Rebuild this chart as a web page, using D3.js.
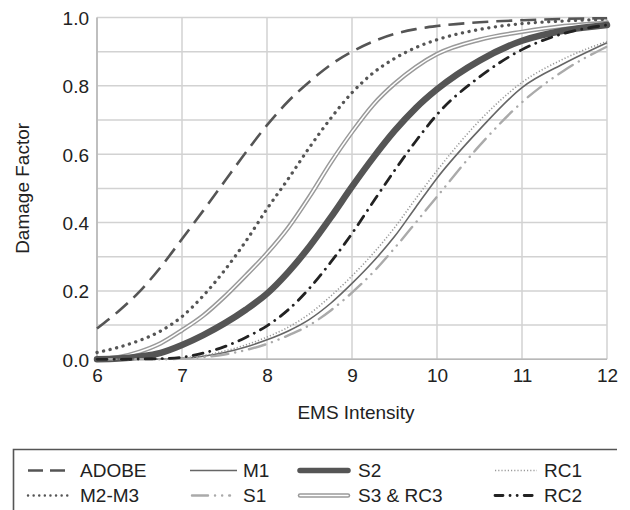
<!DOCTYPE html>
<html>
<head>
<meta charset="utf-8">
<script src="https://cdn.jsdelivr.net/npm/d3@7"></script>
<style>
  html, body { margin: 0; padding: 0; background: #fff; }
  svg { display: block; font-family: "Liberation Sans", Arial, Helvetica, sans-serif; }
</style>
</head>
<body>
<svg id="chart" width="630" height="510"></svg>
<script>
// ---- data ----
const intensity = [6, 6.25, 6.5, 6.75, 7, 7.25, 7.5, 7.75, 8, 8.25, 8.5, 8.75, 9, 9.25, 9.5, 9.75, 10, 10.5, 11, 11.5, 12];
const adobe = [0.09, 0.14, 0.198, 0.27, 0.352, 0.435, 0.52, 0.605, 0.685, 0.755, 0.812, 0.862, 0.90, 0.93, 0.952, 0.966, 0.975, 0.986, 0.992, 0.996, 0.998];
const m2m3  = [0.02, 0.035, 0.055, 0.083, 0.125, 0.186, 0.26, 0.345, 0.44, 0.528, 0.62, 0.705, 0.78, 0.838, 0.88, 0.912, 0.935, 0.965, 0.982, 0.99, 0.995];
const s3rc3 = [0.0, 0.006, 0.022, 0.047, 0.085, 0.128, 0.183, 0.245, 0.31, 0.385, 0.476, 0.575, 0.665, 0.745, 0.806, 0.855, 0.893, 0.935, 0.958, 0.975, 0.985];
const s2    = [0.0, 0.002, 0.008, 0.019, 0.042, 0.071, 0.105, 0.145, 0.192, 0.255, 0.33, 0.415, 0.505, 0.59, 0.668, 0.735, 0.79, 0.874, 0.932, 0.962, 0.978];
const rc2   = [0.0, 0.0, 0.001, 0.002, 0.006, 0.018, 0.037, 0.064, 0.098, 0.145, 0.208, 0.284, 0.368, 0.461, 0.552, 0.638, 0.716, 0.826, 0.906, 0.954, 0.978];
const m1    = [0.0, 0.0, 0.0, 0.001, 0.003, 0.009, 0.02, 0.036, 0.057, 0.083, 0.117, 0.164, 0.222, 0.286, 0.359, 0.445, 0.53, 0.672, 0.795, 0.866, 0.926];
const rc1   = [0.0, 0.0, 0.0, 0.001, 0.004, 0.011, 0.024, 0.042, 0.065, 0.094, 0.133, 0.185, 0.244, 0.31, 0.385, 0.47, 0.552, 0.698, 0.81, 0.88, 0.93];
const s1    = [0.0, 0.0, 0.0, 0.0, 0.002, 0.006, 0.014, 0.027, 0.045, 0.07, 0.10, 0.143, 0.195, 0.255, 0.325, 0.40, 0.476, 0.625, 0.752, 0.846, 0.915];

const seriesNames = ["ADOBE", "M1", "S2", "RC1", "M2-M3", "S1", "S3 & RC3", "RC2"];
const xTicks = [6, 7, 8, 9, 10, 11, 12];
const yTicks = [0, 0.2, 0.4, 0.6, 0.8, 1.0];
const yGrid = [0, 0.1, 0.2, 0.3, 0.4, 0.5, 0.6, 0.7, 0.8, 0.9, 1.0];
const xTitle = "EMS Intensity";
const yTitle = "Damage Factor";

const valuesByName = {
  "ADOBE": adobe, "M1": m1, "S2": s2, "RC1": rc1,
  "M2-M3": m2m3, "S1": s1, "S3 & RC3": s3rc3, "RC2": rc2
};

// ---- styles ----
const styles = {
  "ADOBE":    [{stroke: "#555", width: 2.6, dash: "16 8", cap: "butt"}],
  "M1":       [{stroke: "#666", width: 1.6, dash: null, cap: "butt"}],
  "S2":       [{stroke: "#555", width: 6.5, dash: null, cap: "round"}],
  "RC1":      [{stroke: "#9a9a9a", width: 1.6, dash: "1.2 2", cap: "butt"}],
  "M2-M3":    [{stroke: "#555", width: 3.3, dash: "0.1 6.6", cap: "round"}],
  "S1":       [{stroke: "#aaa", width: 2.4, dash: "17 7 0.1 7 0.1 7", cap: "round"}],
  "S3 & RC3": [{stroke: "#9a9a9a", width: 4.5, dash: null, cap: "round"}, {stroke: "#fff", width: 1.5, dash: null, cap: "round"}],
  "RC2":      [{stroke: "#222", width: 2.8, dash: "10 7 0.1 7", cap: "round"}]
};
const drawOrder = ["S3 & RC3", "S2", "M1", "RC1", "S1", "RC2", "M2-M3", "ADOBE"];

// ---- layout ----
const svg = d3.select("#chart");
const x = d3.scaleLinear().domain([6, 12]).range([97, 607]);
const y = d3.scaleLinear().domain([0, 1]).range([359.3, 17.5]);
const textColor = "#222";
const fontSize = 19;

// grid
const g = svg.append("g");
g.selectAll("line.gx").data(xTicks).enter().append("line")
  .attr("x1", d => x(d)).attr("x2", d => x(d))
  .attr("y1", y(0)).attr("y2", y(1))
  .attr("stroke", "#d2d2d2").attr("stroke-width", 1.5);
g.selectAll("line.gy").data(yGrid).enter().append("line")
  .attr("x1", x(6)).attr("x2", x(12))
  .attr("y1", d => y(d)).attr("y2", d => y(d))
  .attr("stroke", "#d2d2d2").attr("stroke-width", 1.5);
// axes lines
g.append("line").attr("x1", x(6)).attr("x2", x(6)).attr("y1", y(0)).attr("y2", y(1))
  .attr("stroke", "#b8b8b8").attr("stroke-width", 1.6);
g.append("line").attr("x1", x(6)).attr("x2", x(12)).attr("y1", y(0)).attr("y2", y(0))
  .attr("stroke", "#b8b8b8").attr("stroke-width", 1.6);

// axes via d3
const xAxis = d3.axisBottom(x).tickValues(xTicks).tickSize(0).tickPadding(0).tickFormat(d3.format("d"));
const yAxis = d3.axisLeft(y).tickValues(yTicks).tickSize(0).tickPadding(0).tickFormat(d3.format(".1f"));
const gx = svg.append("g").attr("transform", `translate(0,${y(0)})`).call(xAxis);
const gy = svg.append("g").attr("transform", `translate(${x(6) - 8},0)`).call(yAxis);
[gx, gy].forEach(a => {
  a.select(".domain").remove();
  a.selectAll("text").attr("fill", textColor).style("font-size", fontSize + "px")
    .style("font-family", '"Liberation Sans", Arial, sans-serif');
});
gx.selectAll("text").attr("dy", null).attr("y", 22.5);
gy.selectAll("text").attr("dy", "0.36em").attr("x", 0);

// titles
svg.append("text").attr("x", 356).attr("y", 419).attr("text-anchor", "middle")
  .attr("fill", textColor).style("font-size", fontSize + "px").text(xTitle);
svg.append("text").attr("transform", `translate(29,${(y(0) + y(1)) / 2}) rotate(-90)`)
  .attr("text-anchor", "middle").attr("fill", textColor).style("font-size", fontSize + "px").text(yTitle);

// lines
const line = d3.line().x((d, i) => x(intensity[i])).y(d => y(d)).curve(d3.curveMonotoneX);
const lg = svg.append("g");
drawOrder.forEach(name => {
  styles[name].forEach(s => {
    lg.append("path").datum(valuesByName[name])
      .attr("d", line)
      .attr("fill", "none")
      .attr("stroke", s.stroke)
      .attr("stroke-width", s.width)
      .attr("stroke-linecap", s.cap)
      .attr("stroke-linejoin", "round")
      .attr("stroke-dasharray", s.dash);
  });
});

// legend
const leg = svg.append("g");
leg.append("path").attr("d", "M13.5,520 V449.5 H617").attr("fill", "none")
  .attr("stroke", "#555").attr("stroke-width", 1.6);
const colX = [28, 190, 300, 495];
const colW = [42, 47, 48, 42];
const rowY = [470.5, 495.5];
const textGap = [10, 6, 10, 7];
seriesNames.forEach((name, i) => {
  const col = i % 4, row = Math.floor(i / 4);
  const x0 = colX[col] + (name === "S1" ? 2 : 0);
  const w = name === "S1" ? 38 : colW[col];
  styles[name].forEach(s => {
    let dash = s.dash;
    if (name === "ADOBE") dash = "15 7";
    if (name === "M2-M3") dash = "0.1 5.5";
    if (name === "S1") dash = "16 7 0.1 7 0.1 7";
    if (name === "RC2") dash = "8 7 0.1 7 0.1 7";
    const sw = name === "M2-M3" ? 2.4 : (name === "S2" ? 5.5 : s.width);
    leg.append("line")
      .attr("x1", x0).attr("x2", x0 + w).attr("y1", rowY[row]).attr("y2", rowY[row])
      .attr("stroke", s.stroke).attr("stroke-width", sw)
      .attr("stroke-linecap", s.cap).attr("stroke-dasharray", dash);
  });
  leg.append("text").attr("x", colX[col] + colW[col] + textGap[col]).attr("y", rowY[row])
    .attr("dy", "0.36em").attr("fill", textColor).style("font-size", fontSize + "px").text(name);
});
</script>
</body>
</html>
